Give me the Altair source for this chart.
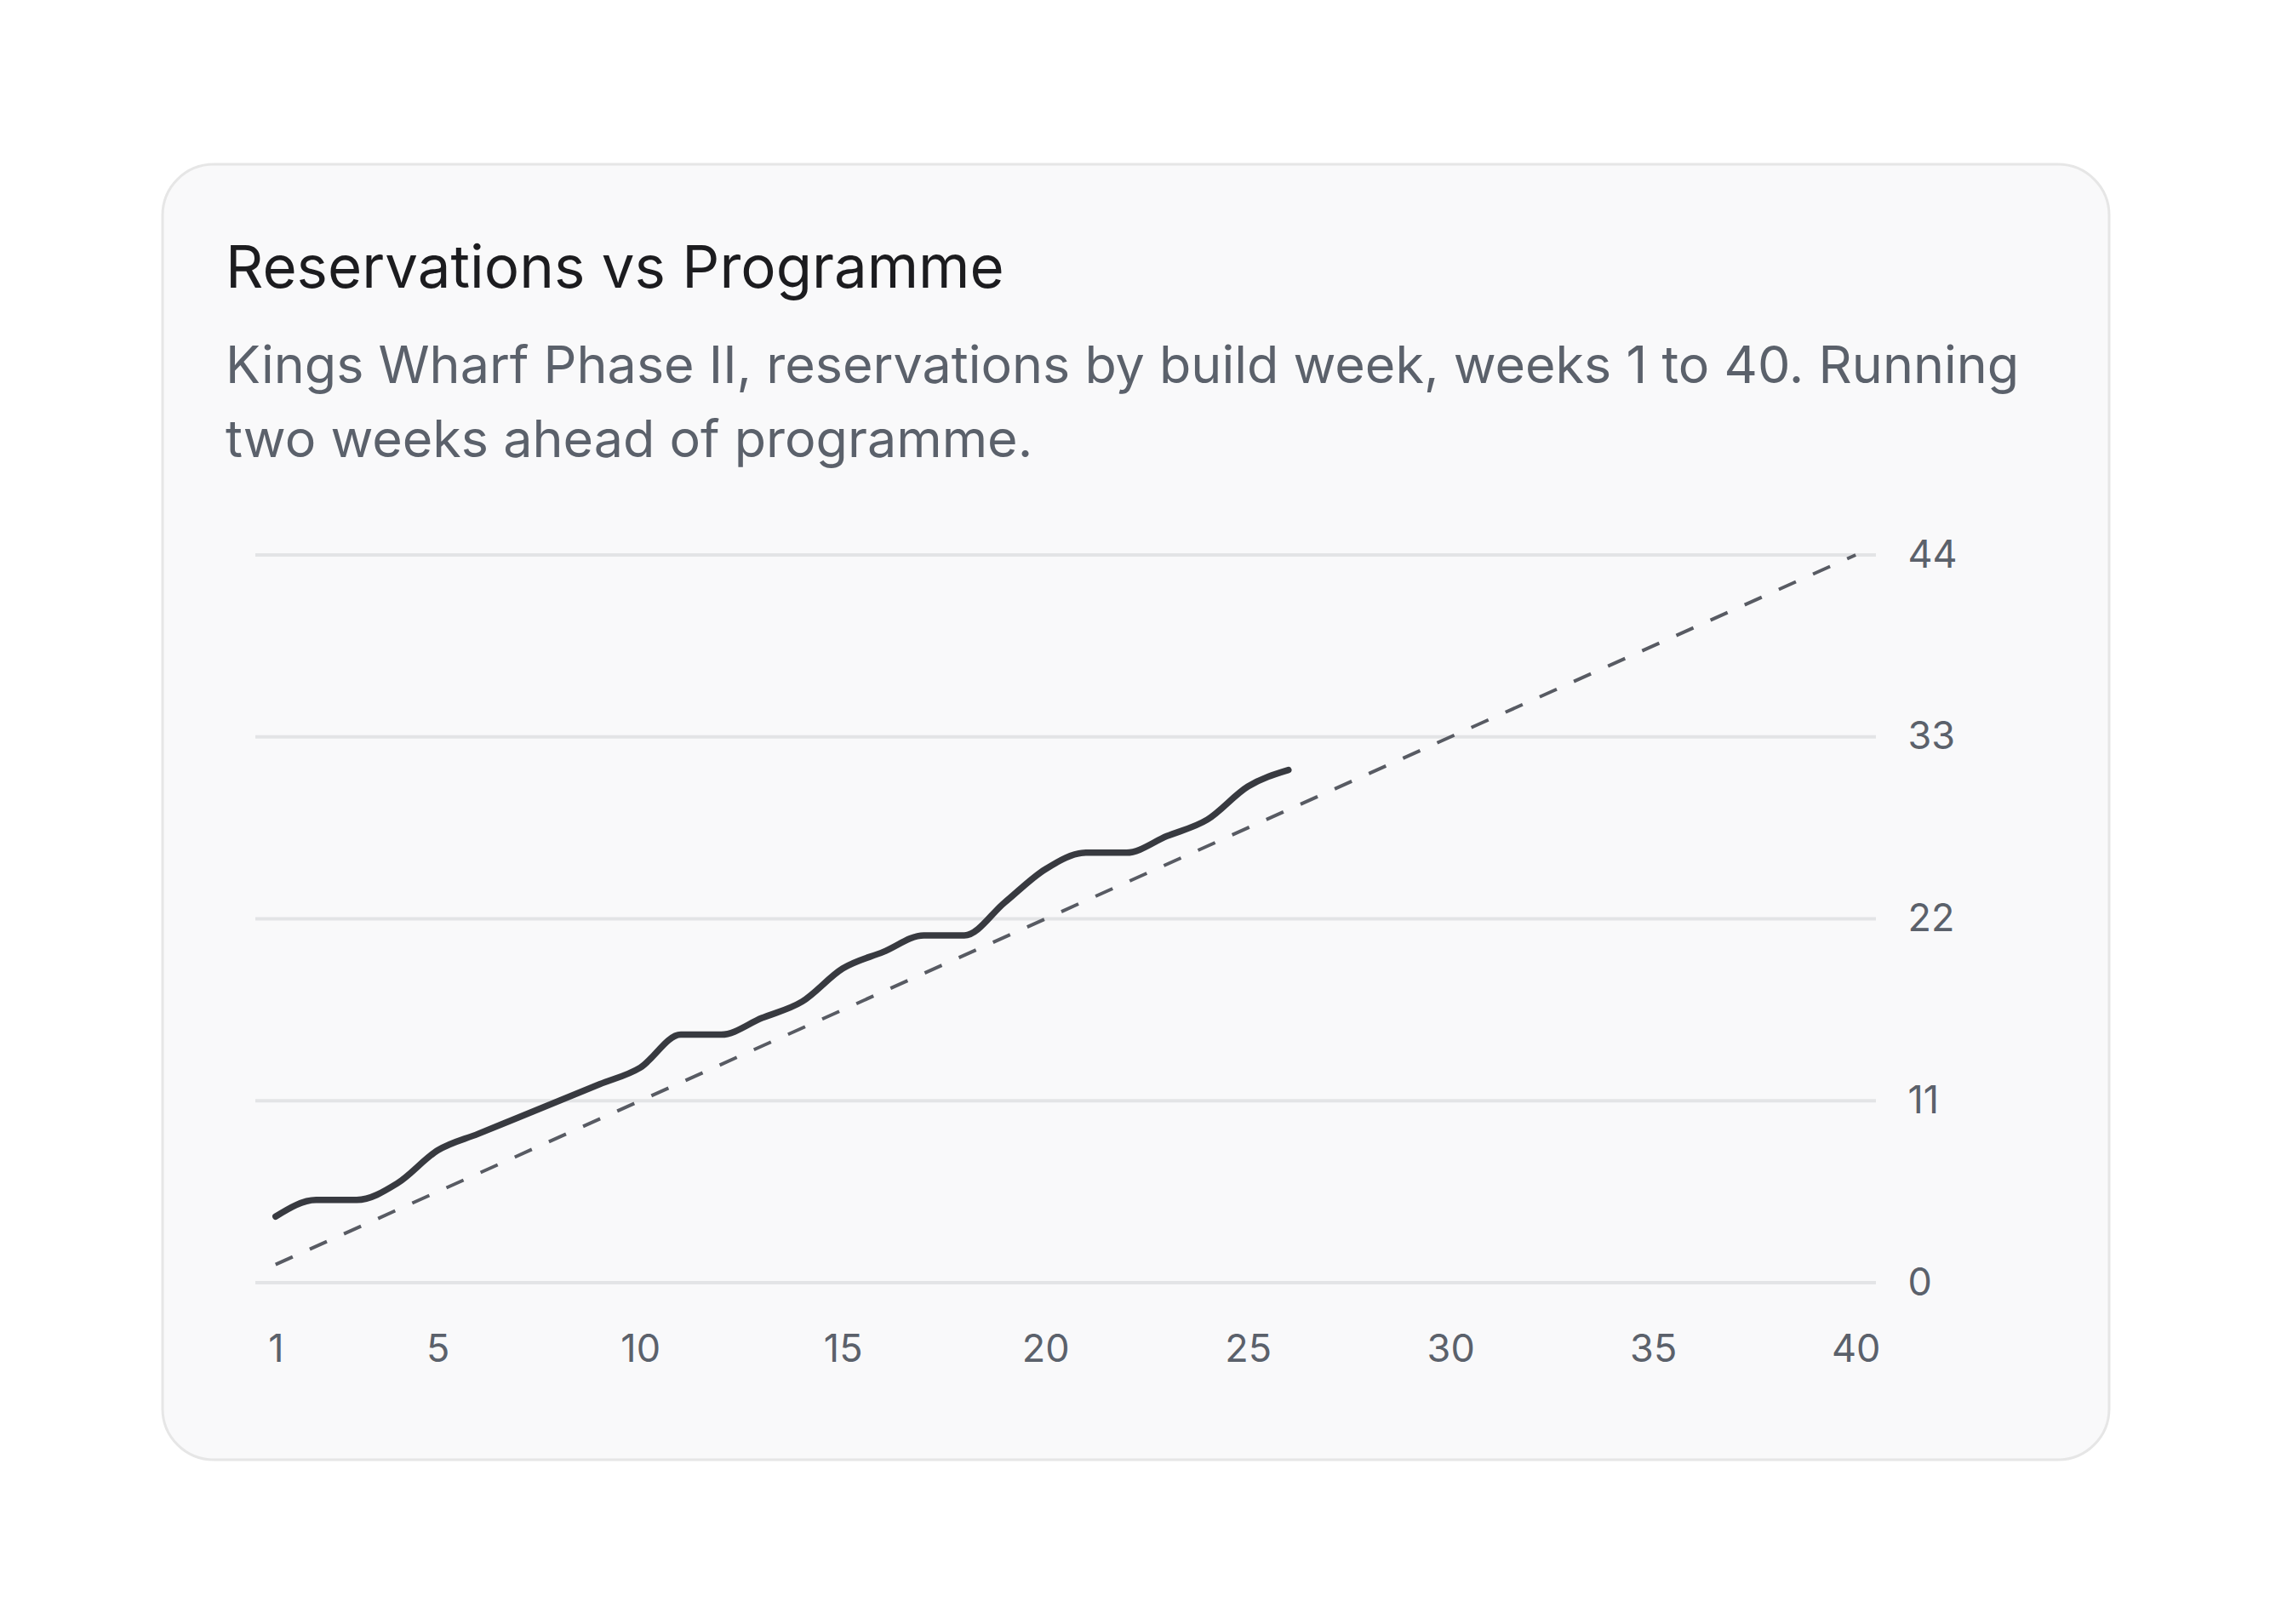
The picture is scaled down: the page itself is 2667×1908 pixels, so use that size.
import altair as alt
import pandas as pd

# ---- data ----
weeks = list(range(1, 27))
reservations = [4, 5, 5, 6, 8, 9, 10, 11, 12, 13, 15, 15, 16, 17, 19, 20, 21, 21, 23, 25, 26, 26, 27, 28, 30, 31]
programme_weeks = [1, 40]
programme_values = [1.1, 44]
y_ticks = [0, 11, 22, 33, 44]
x_ticks = [1, 5, 10, 15, 20, 25, 30, 35, 40]

title_text = "Reservations vs Programme"
subtitle_lines = [
    "Kings Wharf Phase II, reservations by build week, weeks 1 to 40. Running",
    "two weeks ahead of programme.",
]

FONT = "Inter"
LABEL_COLOR = "#5b616b"
W, H = 1904, 855

res_df = pd.DataFrame({"week": weeks, "reservations": reservations})
prog_df = pd.DataFrame({"week": programme_weeks, "programme": programme_values})
grid_df = pd.DataFrame({"value": y_ticks})

x_scale = alt.Scale(domain=[0.5, 40.5], nice=False, zero=False)
y_scale = alt.Scale(domain=[0, 44], nice=False)

x_axis = alt.Axis(values=x_ticks, title=None, grid=False, domain=False, ticks=False,
                  tickSize=0, labelPadding=56, labelFontSize=45, labelFont=FONT,
                  labelColor=LABEL_COLOR, zindex=1, labelFlush=False)
y_axis = alt.Axis(orient="right", values=y_ticks, title=None, grid=False, domain=False,
                  ticks=False, tickSize=0, labelPadding=37, labelFontSize=45, labelFont=FONT,
                  labelColor=LABEL_COLOR, zindex=1, labelFlush=False)

card = alt.Chart(alt.Data(values=[{"card": 1}])).mark_rect(
    fill="#f9f9fa", stroke="#e6e6e6", strokeWidth=3, cornerRadius=60
).encode(
    x=alt.value(-109), x2=alt.value(2178), y=alt.value(-459), y2=alt.value(1063)
)

grid = alt.Chart(grid_df).mark_rule(color="#e3e4e6", strokeWidth=4).encode(
    y=alt.Y("value:Q", scale=y_scale, axis=y_axis)
)

programme = alt.Chart(prog_df).mark_line(
    color="#585b63", strokeWidth=4, strokeDash=[22, 22]
).encode(
    x=alt.X("week:Q", scale=x_scale, axis=x_axis),
    y=alt.Y("programme:Q", scale=y_scale, axis=y_axis),
)

actual = alt.Chart(res_df).mark_line(
    color="#383a40", strokeWidth=7.5, interpolate="monotone", strokeCap="round", strokeJoin="round"
).encode(
    x=alt.X("week:Q", scale=x_scale, axis=x_axis),
    y=alt.Y("reservations:Q", scale=y_scale, axis=y_axis),
)

chart = alt.layer(card, grid, programme, actual).properties(
    width=W,
    height=H,
    padding={"left": 181, "top": 183, "right": 10, "bottom": 10},
    title=alt.TitleParams(
        text=title_text,
        subtitle=subtitle_lines,
        anchor="start",
        frame="group",
        dx=-35,
        offset=-357,
        font=FONT,
        fontSize=69,
        fontWeight="normal",
        color="#1c1c1f",
        subtitleFont=FONT,
        subtitleFontSize=61,
        subtitleColor=LABEL_COLOR,
        subtitleLineHeight=87,
        subtitlePadding=50,
    ),
).configure(background="#ffffff").configure_view(stroke=None)

chart.save("out.html", embed_options={"renderer": "svg", "actions": False})
